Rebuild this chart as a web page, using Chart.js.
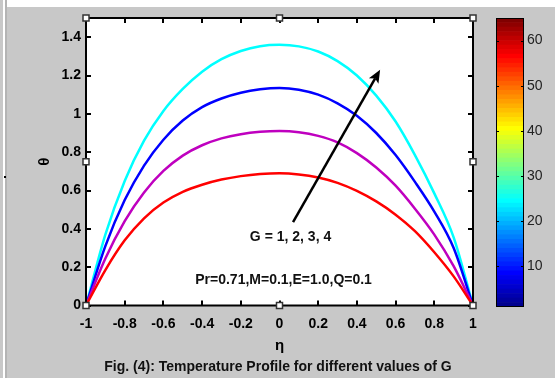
<!DOCTYPE html>
<html>
<head>
<meta charset="utf-8">
<script src="https://cdn.jsdelivr.net/npm/chart.js@4/dist/chart.umd.min.js"></script>
<style>
  html, body { margin: 0; padding: 0; background: #c8c8c8; }
  #wrap { position: relative; width: 555px; height: 378px; overflow: hidden; background: #c8c8c8; }
  #main { position: absolute; left: 0; top: 0; }
  #cbar { position: absolute; left: 490px; top: 0; }
  .strip { position: absolute; }
</style>
</head>
<body>
<div id="wrap">
  <div class="strip" style="left:7px;top:0;width:548px;height:7px;background:#ffffff;"></div>
  <div class="strip" style="left:0;top:0;width:3px;height:378px;background:#c8c8c8;"></div>
  <div class="strip" style="left:3px;top:0;width:2px;height:378px;background:#ffffff;"></div>
  <div class="strip" style="left:5px;top:0;width:2px;height:378px;background:#b4b4b4;"></div>
  <div class="strip" style="left:4px;top:176px;width:2px;height:2px;background:#000000;"></div>
  <canvas id="main" width="555" height="378"></canvas>
  <canvas id="cbar" width="65" height="378"></canvas>
</div>
<script>
// ---------------- data ----------------
const eta = [-1, -0.9, -0.8, -0.7, -0.6, -0.5, -0.4, -0.3, -0.2, -0.1, 0, 0.1, 0.2, 0.3, 0.4, 0.5, 0.6, 0.7, 0.8, 0.9, 1];
const thetaG1 = [0, 0.185, 0.34, 0.455, 0.537, 0.593, 0.63, 0.657, 0.675, 0.686, 0.69, 0.684, 0.668, 0.64, 0.598, 0.543, 0.474, 0.388, 0.278, 0.152, 0];
const thetaG2 = [0, 0.245, 0.44, 0.59, 0.702, 0.782, 0.836, 0.872, 0.894, 0.906, 0.91, 0.904, 0.885, 0.851, 0.795, 0.72, 0.625, 0.505, 0.37, 0.205, 0];
const thetaG3 = [0, 0.31, 0.55, 0.73, 0.865, 0.965, 1.035, 1.08, 1.11, 1.128, 1.135, 1.126, 1.10, 1.055, 0.99, 0.90, 0.785, 0.645, 0.49, 0.30, 0];
const thetaG4 = [0, 0.37, 0.65, 0.86, 1.015, 1.13, 1.22, 1.285, 1.328, 1.353, 1.36, 1.352, 1.325, 1.275, 1.20, 1.095, 0.96, 0.785, 0.585, 0.355, 0];
const seriesNames = ['G = 1', 'G = 2', 'G = 3', 'G = 4'];
const seriesColors = ['#ff0000', '#bf00bf', '#0000ff', '#00ffff'];

const xTickValues = [-1, -0.8, -0.6, -0.4, -0.2, 0, 0.2, 0.4, 0.6, 0.8, 1];
const xTickLabels = ['-1', '-0.8', '-0.6', '-0.4', '-0.2', '0', '0.2', '0.4', '0.6', '0.8', '1'];
const yTickValues = [0, 0.2, 0.4, 0.6, 0.8, 1, 1.2, 1.4];
const yTickLabels = ['0', '0.2', '0.4', '0.6', '0.8', '1', '1.2', '1.4'];
const xRange = [-1, 1];
const yRange = [0, 1.5];

const cbRange = [1, 65];
const cbTickValues = [10, 20, 30, 40, 50, 60];
const cbTickLabels = ['10', '20', '30', '40', '50', '60'];
const cbLevels = 64;

const xTitle = 'η';
const yTitle = 'θ';
const caption = 'Fig. (4): Temperature Profile for different values of G';
const arrowFrom = [0.07, 0.435];
const arrowTo = [0.52, 1.23];
const noteG = { text: 'G = 1, 2, 3, 4', at: [0.057, 0.337] };
const noteParams = { text: 'Pr=0.71,M=0.1,E=1.0,Q=0.1', at: [0.021, 0.11] };

// ---------------- styles ----------------
const FONT = '"Liberation Sans", Arial, Helvetica, sans-serif';

function jetColormap(n) {
  const m = Math.ceil(n / 4);
  const u = [];
  for (let i = 1; i <= m; i++) u.push(i / m);
  for (let i = 1; i < m; i++) u.push(1);
  for (let i = m; i >= 1; i--) u.push(i / m);
  const g0 = Math.ceil(m / 2) - (n % 4 === 1 ? 1 : 0);
  const J = Array.from({ length: n }, () => [0, 0, 0]);
  for (let k = 0; k < u.length; k++) {
    const g = g0 + k + 1, r = g + m, b = g - m;
    if (r >= 1 && r <= n) J[r - 1][0] = u[k];
    if (g >= 1 && g <= n) J[g - 1][1] = u[k];
    if (b >= 1 && b <= n) J[b - 1][2] = u[k];
  }
  return J.map(c => `rgb(${Math.round(c[0] * 255)},${Math.round(c[1] * 255)},${Math.round(c[2] * 255)})`);
}

const seriesData = [thetaG1, thetaG2, thetaG3, thetaG4];
const datasets = seriesData.map((vals, i) => ({
  label: seriesNames[i],
  data: eta.map((x, j) => ({ x: x, y: vals[j] })),
  borderColor: seriesColors[i],
  backgroundColor: seriesColors[i],
  borderWidth: 2.5,
  pointRadius: 0,
  cubicInterpolationMode: 'monotone',
  fill: false
}));

function handle(ctx, x, y) {
  ctx.save();
  ctx.fillStyle = '#ffffff';
  ctx.strokeStyle = '#333333';
  ctx.lineWidth = 1.5;
  ctx.fillRect(x - 3, y - 3, 6, 6);
  ctx.strokeRect(x - 3, y - 3, 6, 6);
  ctx.restore();
}

const framePlugin = {
  id: 'frame',
  beforeDraw(chart) {
    const a = chart.chartArea, ctx = chart.ctx;
    ctx.save();
    ctx.fillStyle = '#ffffff';
    ctx.fillRect(a.left, a.top, a.right - a.left, a.bottom - a.top);
    ctx.restore();
  },
  afterDraw(chart) {
    const a = chart.chartArea, ctx = chart.ctx;
    const xs = chart.scales.x, ys = chart.scales.y;
    ctx.save();
    // inward ticks on all four sides
    ctx.strokeStyle = '#000';
    ctx.lineWidth = 2;
    const tl = 5;
    ctx.beginPath();
    xs.ticks.forEach(t => {
      const p = Math.round(xs.getPixelForValue(t.value));
      ctx.moveTo(p, a.bottom); ctx.lineTo(p, a.bottom - tl);
      ctx.moveTo(p, a.top); ctx.lineTo(p, a.top + tl);
    });
    ys.ticks.forEach(t => {
      const p = Math.round(ys.getPixelForValue(t.value));
      ctx.moveTo(a.left, p); ctx.lineTo(a.left + tl, p);
      ctx.moveTo(a.right, p); ctx.lineTo(a.right - tl, p);
    });
    ctx.stroke();
    // box
    ctx.lineWidth = 2;
    ctx.strokeRect(a.left, a.top, a.right - a.left, a.bottom - a.top);

    // arrow
    const x0 = xs.getPixelForValue(arrowFrom[0]), y0 = ys.getPixelForValue(arrowFrom[1]);
    const x1 = xs.getPixelForValue(arrowTo[0]), y1 = ys.getPixelForValue(arrowTo[1]);
    const ang = Math.atan2(y1 - y0, x1 - x0);
    const hl = 13, hw = 5.5;
    const bx = x1 - hl * Math.cos(ang), by = y1 - hl * Math.sin(ang);
    ctx.strokeStyle = '#000';
    ctx.lineWidth = 2.5;
    ctx.beginPath(); ctx.moveTo(x0, y0); ctx.lineTo(bx + 3 * Math.cos(ang), by + 3 * Math.sin(ang)); ctx.stroke();
    ctx.fillStyle = '#000';
    ctx.beginPath();
    ctx.moveTo(x1, y1);
    ctx.lineTo(bx + hw * Math.sin(ang), by - hw * Math.cos(ang));
    ctx.lineTo(bx + 3 * Math.cos(ang), by + 3 * Math.sin(ang));
    ctx.lineTo(bx - hw * Math.sin(ang), by + hw * Math.cos(ang));
    ctx.closePath();
    ctx.fill();

    // annotations
    ctx.fillStyle = '#111';
    ctx.font = 'bold 14px ' + FONT;
    ctx.textAlign = 'center';
    ctx.textBaseline = 'alphabetic';
    ctx.fillText(noteG.text, xs.getPixelForValue(noteG.at[0]), ys.getPixelForValue(noteG.at[1]));
    ctx.fillText(noteParams.text, xs.getPixelForValue(noteParams.at[0]), ys.getPixelForValue(noteParams.at[1]));

    // axis titles and caption
    ctx.fillStyle = '#000';
    ctx.font = 'bold 15px ' + FONT;
    ctx.textBaseline = 'middle';
    ctx.fillText(xTitle, (a.left + a.right) / 2, 346);
    ctx.save();
    ctx.translate(45, (a.top + a.bottom) / 2);
    ctx.rotate(-Math.PI / 2);
    ctx.fillText(yTitle, 0, 0);
    ctx.restore();
    ctx.fillStyle = '#111';
    ctx.font = 'bold 14px ' + FONT;
    ctx.textBaseline = 'alphabetic';
    ctx.fillText(caption, 278, 371);

    // selection handles
    const mx = (a.left + a.right) / 2, my = (a.top + a.bottom) / 2;
    [[a.left, a.top], [mx, a.top], [a.right, a.top], [a.left, my], [a.right, my],
     [a.left, a.bottom], [mx, a.bottom], [a.right, a.bottom]].forEach(p => handle(ctx, p[0], p[1]));
    ctx.restore();
  }
};

new Chart(document.getElementById('main'), {
  type: 'line',
  data: { datasets },
  options: {
    responsive: false,
    animation: false,
    devicePixelRatio: 1,
    layout: { padding: { left: 46, top: 18, right: 82, bottom: 32.5 } },
    plugins: { legend: { display: false }, tooltip: { enabled: false } },
    scales: {
      x: {
        type: 'linear', min: xRange[0], max: xRange[1],
        afterFit(s) { s.height = 40; },
        afterBuildTicks(s) { s.ticks = xTickValues.map(v => ({ value: v })); },
        grid: { display: false, drawTicks: false },
        border: { display: false },
        ticks: {
          padding: 10, color: '#000', maxRotation: 0, autoSkip: false,
          font: { family: FONT, size: 14, weight: 'bold' },
          callback: (v, i) => xTickLabels[i]
        }
      },
      y: {
        type: 'linear', min: yRange[0], max: yRange[1],
        afterFit(s) { s.width = 40; },
        afterBuildTicks(s) { s.ticks = yTickValues.map(v => ({ value: v })); },
        grid: { display: false, drawTicks: false },
        border: { display: false },
        ticks: {
          padding: 5, color: '#000', autoSkip: false,
          font: { family: FONT, size: 14, weight: 'bold' },
          callback: (v, i) => yTickLabels[i]
        }
      }
    }
  },
  plugins: [framePlugin]
});

// ---------------- colour bar ----------------
const jet = jetColormap(cbLevels);
const cbDatasets = jet.map((c, i) => ({
  data: [[cbRange[0] + i, cbRange[0] + i + 1]],
  backgroundColor: c,
  borderWidth: 0,
  grouped: false,
  barPercentage: 1,
  categoryPercentage: 1
}));

const cbFrame = {
  id: 'cbframe',
  afterDraw(chart) {
    const a = chart.chartArea, ctx = chart.ctx, ys = chart.scales.y;
    ctx.save();
    ctx.strokeStyle = '#000';
    ctx.lineWidth = 1;
    ctx.strokeRect(a.left + 0.5, a.top + 0.5, a.right - a.left - 1, a.bottom - a.top - 1);
    ctx.beginPath();
    ys.ticks.forEach(t => {
      const p = Math.round(ys.getPixelForValue(t.value)) + 0.5;
      ctx.moveTo(a.left, p); ctx.lineTo(a.left + 3, p);
      ctx.moveTo(a.right, p); ctx.lineTo(a.right - 3, p);
    });
    ctx.stroke();
    ctx.restore();
  }
};

new Chart(document.getElementById('cbar'), {
  type: 'bar',
  data: { labels: [''], datasets: cbDatasets },
  options: {
    responsive: false,
    animation: false,
    devicePixelRatio: 1,
    layout: { padding: { left: 6, top: 18, right: 0, bottom: 71 } },
    plugins: { legend: { display: false }, tooltip: { enabled: false } },
    scales: {
      x: { display: false, stacked: true },
      y: {
        position: 'right', min: cbRange[0], max: cbRange[1], stacked: false,
        afterFit(s) { s.width = 31; },
        afterBuildTicks(s) { s.ticks = cbTickValues.map(v => ({ value: v })); },
        grid: { display: false, drawTicks: false },
        border: { display: false },
        ticks: {
          padding: 3, color: '#222',
          font: { family: FONT, size: 14 },
          callback: (v, i) => cbTickLabels[i]
        }
      }
    }
  },
  plugins: [cbFrame]
});
</script>
</body>
</html>
